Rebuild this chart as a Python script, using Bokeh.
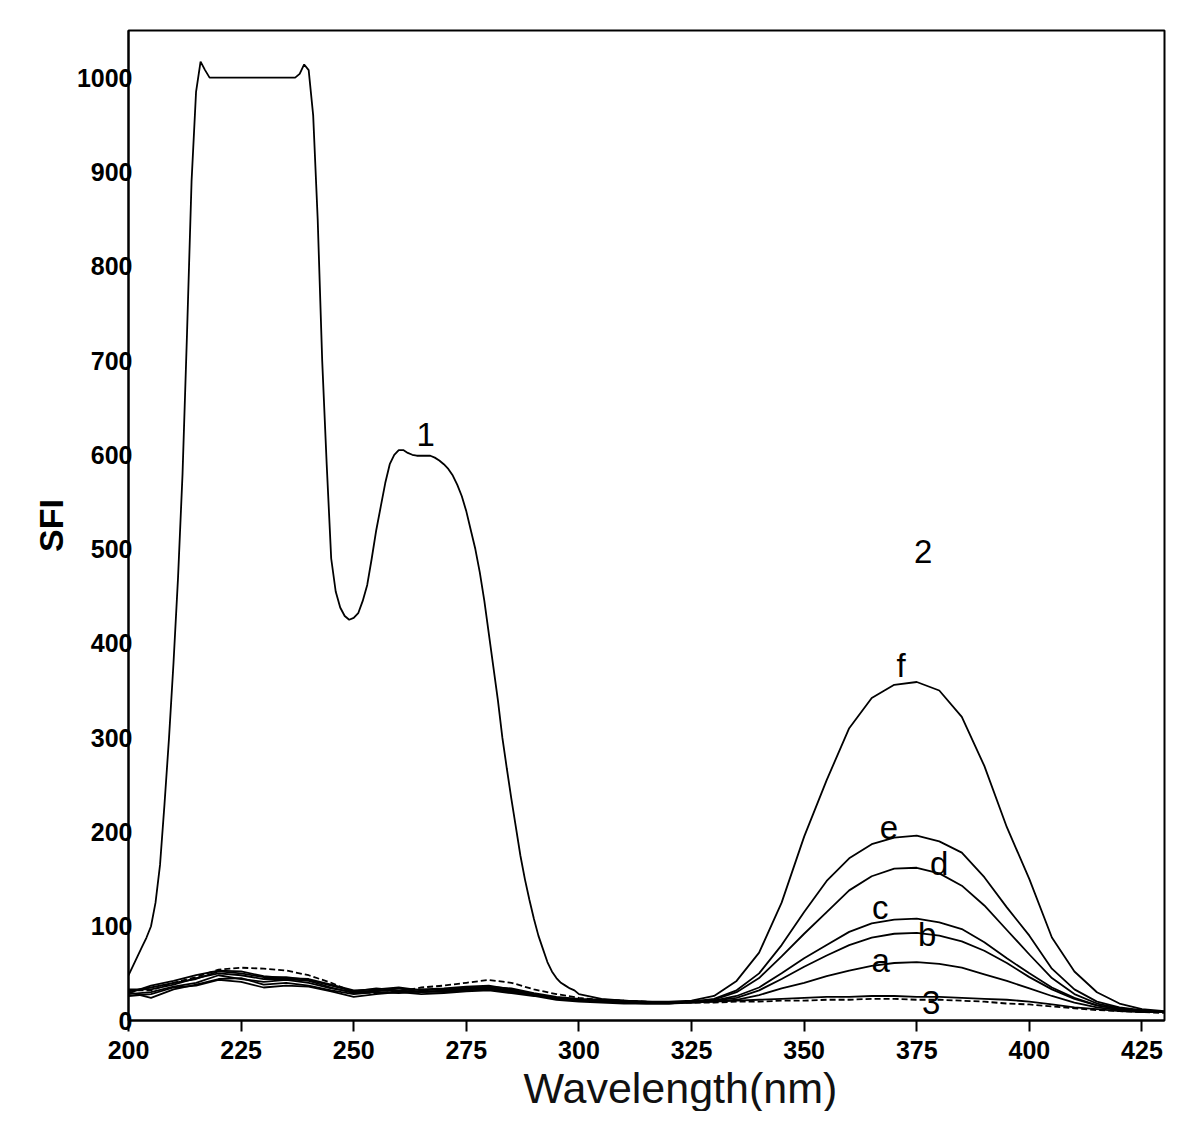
from bokeh.plotting import figure
from bokeh.models import Range1d, FixedTicker, Label, Title
from bokeh.embed import file_html
from bokeh.resources import INLINE

# ---------------- data ----------------
wl = [200, 205, 210, 215, 220, 225, 230, 235, 240, 245, 250, 255, 260, 265, 270,
      275, 280, 285, 290, 295, 300, 305, 310, 315, 320, 325, 330, 335, 340, 345,
      350, 355, 360, 365, 370, 375, 380, 385, 390, 395, 400, 405, 410, 415, 420,
      425, 430]

curve_a = [30, 24, 33, 38, 44, 45, 38, 40, 37, 32, 28, 30, 29, 31, 30, 32, 33, 30, 27, 23, 21,
           20, 19, 18, 18,
           19, 20, 22, 27, 34, 40, 47, 53, 58, 61, 62, 60, 56, 49, 42, 34, 26, 19, 14, 11, 10, 9]
curve_b = [28, 30, 36, 40, 48, 44, 41, 43, 40, 34, 30, 32, 31, 30, 32, 34, 35, 32, 28, 24, 22,
           21, 20, 19, 19,
           20, 21, 24, 32, 44, 57, 69, 80, 88, 92, 93, 90, 84, 74, 61, 46, 33, 23, 16, 12, 10, 9]
curve_c = [33, 33, 38, 45, 50, 48, 44, 44, 42, 35, 29, 31, 34, 30, 31, 33, 34, 31, 27, 23, 21,
           20, 19, 19, 19,
           20, 21, 26, 35, 50, 66, 80, 94, 103, 107, 108, 104, 97, 83, 66, 50, 35, 24, 16, 12, 10, 9]
curve_d = [26, 28, 35, 37, 43, 41, 35, 37, 36, 31, 25, 28, 30, 28, 29, 31, 32, 29, 26, 22, 20,
           19, 18, 18, 18,
           20, 22, 30, 45, 68, 92, 115, 138, 153, 161, 162, 156, 143, 122, 96, 70, 45, 28, 18, 13, 10, 9]
curve_e = [31, 35, 40, 44, 52, 50, 46, 46, 43, 37, 31, 34, 32, 33, 34, 36, 37, 33, 28, 24, 22,
           21, 20, 19, 19,
           20, 23, 32, 50, 80, 115, 148, 172, 187, 194, 196, 190, 178, 152, 120, 90, 55, 33, 20, 14, 11, 9]
curve_f = [29, 37, 42, 48, 53, 52, 47, 45, 44, 38, 32, 33, 35, 32, 33, 35, 36, 34, 29, 25, 23,
           22, 21, 20, 20,
           21, 26, 42, 72, 125, 195, 255, 310, 342, 356, 359, 350, 322, 270, 205, 150, 88, 52, 30, 18, 12, 10]
curve_3 = [32, 32, 40, 46, 54, 56, 55, 53, 48, 40, 30, 29, 31, 35, 37, 40, 43, 40, 33, 28, 24,
           22, 21, 20, 19,
           19, 19, 20, 20, 21, 21, 22, 22, 23, 23, 22, 22, 21, 20, 18, 17, 15, 13, 11, 10, 9, 8]

wl_1 = [200, 201, 202, 203, 204, 205, 206, 207, 208, 209, 210, 211, 212, 213, 214, 215,
        216, 217, 218, 237, 238, 239, 240, 241, 242, 243, 244, 245, 246, 247, 248, 249,
        250, 251, 252, 253, 254, 255, 256, 257, 258, 259, 260, 261, 262, 263, 264, 265,
        266, 267, 268, 269, 270, 271, 272, 273, 274, 275, 276, 277, 278, 279, 280, 281,
        282, 283, 284, 285, 286, 287, 288, 289, 290, 291, 292, 293, 294, 295, 296, 297,
        298, 299, 300, 305, 310, 315, 320, 325, 330, 335, 340, 345, 350, 355, 360, 365,
        370, 375, 380, 385, 390, 395, 400, 405, 410, 415, 420, 425, 430]
curve_1 = [48, 58, 68, 78, 88, 100, 125, 165, 230, 300, 380, 470, 580, 730, 890, 985,
           1017, 1008, 1000, 1000, 1004, 1014, 1008, 960, 850, 700, 590, 490, 455, 438, 429, 425,
           427, 432, 445, 462, 490, 520, 545, 570, 590, 600, 605, 605, 602, 600, 599, 599,
           599, 599, 597, 594, 590, 585, 578, 568, 556, 540, 520, 500, 475, 445, 410, 375,
           340, 300, 267, 235, 205, 175, 150, 128, 108, 90, 76, 62, 52, 45, 40, 37,
           34, 32, 28, 23, 21, 20, 19, 19, 20, 21, 22, 23, 24, 25, 25, 26,
           26, 25, 25, 24, 23, 22, 20, 17, 14, 12, 10, 9, 9]

x_ticks = [200, 225, 250, 275, 300, 325, 350, 375, 400, 425]
y_ticks = [0, 100, 200, 300, 400, 500, 600, 700, 800, 900, 1000]

label_texts = ["1", "2", "f", "e", "d", "c", "b", "a", "3"]
label_x = [266, 376.4, 371.5, 368.8, 380, 366.9, 377.3, 367, 378.2]
label_y = [622, 497, 377, 205, 166, 120, 91, 64, 19]

# ---------------- figure ----------------
p = figure(frame_width=1036, frame_height=990, output_backend="svg",
           toolbar_location=None,
           x_range=Range1d(200, 430), y_range=Range1d(0, 1050),
           min_border_left=128, min_border_top=30, min_border_right=12,
           min_border_bottom=0)
p.background_fill_color = "white"
p.border_fill_color = "white"
p.outline_line_color = "black"
p.outline_line_width = 2
p.xgrid.visible = False
p.ygrid.visible = False

tick_font = "Liberation Sans"
for ax in (p.xaxis[0], p.yaxis[0]):
    ax.axis_line_width = 2
    ax.axis_line_color = "black"
    ax.major_tick_line_width = 2
    ax.major_tick_line_color = "black"
    ax.minor_tick_line_color = None
    ax.major_label_text_font = tick_font
    ax.major_label_text_font_style = "bold"
    ax.major_label_text_font_size = "25px"
    ax.major_label_text_color = "black"

p.xaxis.ticker = FixedTicker(ticks=x_ticks)
p.xaxis.major_tick_in = 0
p.xaxis.major_tick_out = 11
p.xaxis.major_label_standoff = 9

p.yaxis.ticker = FixedTicker(ticks=y_ticks)
p.yaxis.major_tick_in = 0
p.yaxis.major_tick_out = 0
p.yaxis.major_label_standoff = -4
p.yaxis.axis_label = "SFI"
p.yaxis.axis_label_text_font = "Liberation Sans"
p.yaxis.axis_label_text_font_style = "bold"
p.yaxis.axis_label_text_font_size = "34px"
p.yaxis.axis_label_text_color = "black"
p.yaxis.axis_label_standoff = 4

p.add_layout(Title(text="Wavelength(nm)", align="left", offset=395,
                   text_font="Liberation Sans", text_font_style="normal",
                   text_font_size="43px", text_color="#111111", standoff=0), "below")

lw = 1.8
p.line(wl_1, curve_1, line_color="black", line_width=lw)
for ys in (curve_a, curve_b, curve_c, curve_d, curve_e, curve_f):
    p.line(wl, ys, line_color="black", line_width=lw)
p.line(wl, curve_3, line_color="black", line_width=lw, line_dash="6 3")

for t, lx, ly in zip(label_texts, label_x, label_y):
    p.add_layout(Label(x=lx, y=ly, text=t, text_align="center", text_baseline="middle",
                       text_font="Liberation Sans", text_font_size="33px",
                       text_color="black"))

open("out.html", "w").write(file_html(p, INLINE))
